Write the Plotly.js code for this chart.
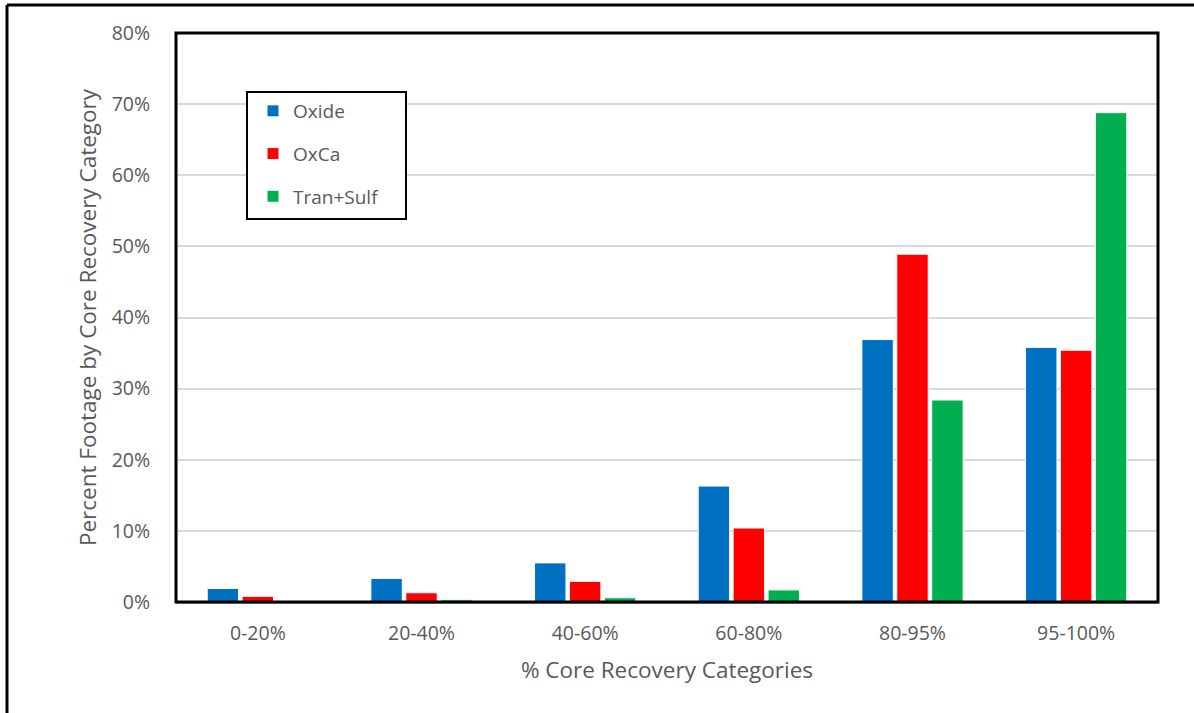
<!DOCTYPE html>
<html>
<head>
<meta charset="utf-8">
<script src="https://cdn.plot.ly/plotly-3.0.1.min.js"></script>
<style>
  html, body { margin: 0; padding: 0; background: #fff; }
  #chart { width: 1194px; height: 713px; }
</style>
</head>
<body>
<div id="chart"></div>
<script>
const categories = ["0-20%", "20-40%", "40-60%", "60-80%", "80-95%", "95-100%"];
const oxide    = [1.9, 3.3, 5.5, 16.3, 36.9, 35.8];
const oxca     = [0.8, 1.3, 2.9, 10.4, 48.9, 35.4];
const tranSulf = [0.0, 0.3, 0.6, 1.7, 28.4, 68.8];
const yTickVals = [0, 10, 20, 30, 40, 50, 60, 70, 80];
const yTickText = ["0%", "10%", "20%", "30%", "40%", "50%", "60%", "70%", "80%"];

const FONT = "Open Sans, sans-serif";
const GREY = "#595959";

function bar(name, y, color, grp) {
  return {
    type: "bar", name: name, x: categories, y: y, legendgroup: grp,
    marker: { color: color, line: { color: "#ffffff", width: 1 } },
    hoverinfo: "x+y+name"
  };
}

const data = [
  bar("Oxide", oxide, "#0070C0", "a"),
  bar("OxCa", oxca, "#FF0000", "b"),
  bar("Tran+Sulf", tranSulf, "#00B050", "c")
];

const L = 176, R = 36, T = 33, B = 111;
const W = 1194, H = 713;
const pw = W - L - R, ph = H - T - B;
function px(x) { return (x - L) / pw; }
function py(y) { return (H - B - y) / ph; }

const layout = {
  width: W, height: H,
  margin: { l: L, r: R, t: T, b: B, pad: 0 },
  paper_bgcolor: "#ffffff",
  plot_bgcolor: "#ffffff",
  font: { family: FONT, color: GREY, size: 20 },
  barmode: "group",
  bargap: 0.36,
  bargroupgap: 0.1,
  showlegend: true,
  legend: {
    x: px(253), y: py(92), xanchor: "left", yanchor: "top",
    borderwidth: 0, bgcolor: "rgba(255,255,255,0)",
    font: { family: FONT, size: 19, color: GREY },
    traceorder: "grouped", tracegroupgap: 15,
    itemwidth: 30
  },
  xaxis: {
    type: "category",
    showgrid: false, zeroline: false,
    showline: true, linecolor: "#a6a6a6", linewidth: 2,
    ticks: "outside", ticklen: 13, tickcolor: "rgba(0,0,0,0)",
    tickfont: { family: FONT, size: 19.5, color: GREY },
    title: { text: "% Core Recovery Categories", font: { family: FONT, size: 22.5, color: GREY }, standoff: 17 }
  },
  yaxis: {
    range: [0, 80],
    tickvals: yTickVals, ticktext: yTickText,
    showgrid: true, gridcolor: "#d9d9d9", gridwidth: 2,
    zeroline: false, showline: false,
    ticks: "outside", ticklen: 21, tickcolor: "rgba(0,0,0,0)",
    tickfont: { family: FONT, size: 19.5, color: GREY },
    title: { text: "Percent Footage by Core Recovery Category", font: { family: FONT, size: 22.5, color: GREY }, standoff: 8 }
  },
  shapes: [
    { type: "rect", xref: "paper", yref: "paper", x0: 0, x1: 1, y0: 0, y1: 1,
      line: { color: "#000000", width: 3 }, fillcolor: "rgba(0,0,0,0)", layer: "above" },
    { type: "rect", xref: "paper", yref: "paper", x0: px(247), x1: px(406), y0: py(92), y1: py(219),
      line: { color: "#000000", width: 2 }, fillcolor: "#ffffff", layer: "above" },
    { type: "line", xref: "paper", yref: "paper", x0: px(7), x1: px(1194), y0: py(5), y1: py(5),
      line: { color: "#000000", width: 3 } },
    { type: "line", xref: "paper", yref: "paper", x0: px(7), x1: px(7), y0: py(5), y1: py(713),
      line: { color: "#000000", width: 3 } }
  ]
};

Plotly.newPlot("chart", data, layout, { displayModeBar: false, staticPlot: true });
</script>
</body>
</html>
